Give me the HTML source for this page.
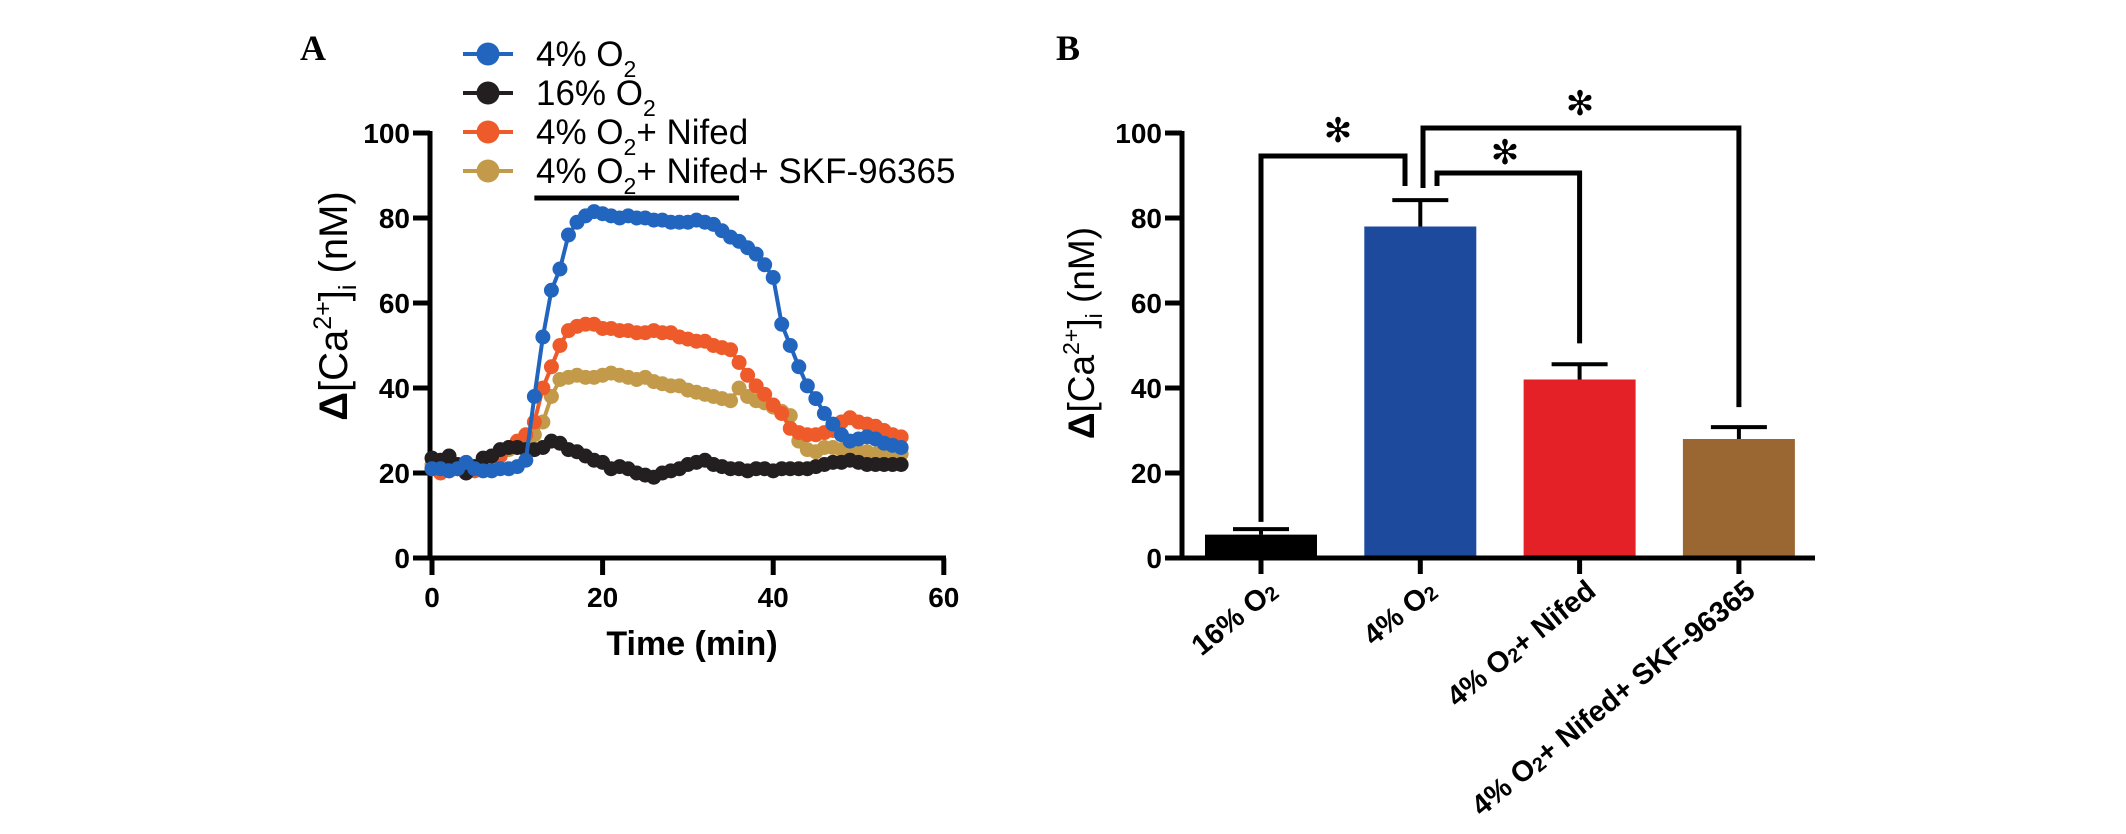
<!DOCTYPE html>
<html><head><meta charset="utf-8"><style>
html,body{margin:0;padding:0;background:#fff;}
svg{display:block;font-family:"Liberation Sans",Arial,sans-serif;}
</style></head><body>
<svg id="fig" width="2126" height="834" viewBox="0 0 2126 834" xmlns="http://www.w3.org/2000/svg">
<text x="300" y="60" font-family="Liberation Serif,serif" font-weight="bold" font-size="36">A</text>
<text x="1056" y="60" font-family="Liberation Serif,serif" font-weight="bold" font-size="36">B</text>
<g id="ga"></g>
<g id="gb"></g>
</svg>
<script>
// ---------- Panel A data ----------
const times = [0,1,2,3,4,5,6,7,8,9,10,11,12,13,14,15,16,17,18,19,20,21,22,23,24,25,26,27,28,29,30,31,32,33,34,35,36,37,38,39,40,41,42,43,44,45,46,47,48,49,50,51,52,53,54,55];
const blueVals = [21,21,20.5,21,22.5,21,20.5,20.5,21,21,21.5,23,38,52,63,68,76,79,80.5,81.5,81,80.5,80,80.5,80,80,79.5,79.5,79,79,79,79.5,79,78.5,77,75.5,74.5,73,71.5,69,66,55,50,45,40.5,37.5,34,31.5,29,27.5,28,28.5,28,27,26.5,26];
const blackVals = [23.5,23,24,22,20,21.5,23.5,24,25.5,26,26,25.5,25.5,26,27.5,27,25.5,25,24,23,22.5,21,21.5,21,20,19.5,19,20,20.5,21,22,22.5,23,22,21.5,21,21,20.5,21,21,20.5,21,21,21,21,21.5,22,22.5,22.5,23,22.5,22,22,22,22,22];
const orangeVals = [21,20,20.5,21,21.5,20.5,21,22,24,26,27.5,29,32,40,45,50,53.5,54.5,55,55,54,54,53.5,53.5,53,53,53.5,53,53,52,51.5,51,51,50,49.5,49,46,43,40.5,38.5,36,34,30.5,29.5,29,29,29.5,30,32,33,32,31.5,31,30,29,28.5];
const tanVals = [22,22.5,21,21.5,20,21.5,22,23,24.5,25.5,26.5,27.5,29,32,38,42,42.5,43,42.5,42.5,43,43.5,43,42.5,42,42.5,41.5,41,40.5,40.5,39.5,39,38.5,38,37.5,37,40,38,37,36.5,35.5,34.5,33.5,27.5,25.5,25,26,26,25.5,25,25,25,24.5,24.5,24.5,24.5];
const aYTicks = [0,20,40,60,80,100];
const aXTicks = [0,20,40,60];
const legendLabels = ["4% O","16% O","4% O","4% O"];
const legendSuffix = ["", "", "+ Nifed", "+ Nifed+ SKF-96365"];
const stimStart = 12, stimEnd = 36;

// ---------- Panel B data ----------
const categories = ["16% O","4% O","4% O+ Nifed","4% O+ Nifed+ SKF-96365"];
const barMeans = [5.5,78,42,28];
const barErrors = [1.3,6.2,3.6,2.8];
const bYTicks = [0,20,40,60,80,100];

const NS="http://www.w3.org/2000/svg";
function mk(parent, tag, attrs){const e=document.createElementNS(NS,tag);for(const k in attrs)e.setAttribute(k,attrs[k]);parent.appendChild(e);return e;}

// ---------- Panel A ----------
const ga=document.getElementById('ga');
const ax=t=>432+t*8.53;
const ay=v=>558-v*4.25;
let e=mk(ga,'line',{x1:430,y1:131,x2:430,y2:560,stroke:'#000','stroke-width':5});


e=mk(ga,'line',{x1:428,y1:558,x2:946,y2:558,stroke:'#000','stroke-width':5});


aYTicks.forEach(v=>{
  let t=mk(ga,'line',{x1:413,y1:ay(v),x2:430,y2:ay(v),stroke:'#000','stroke-width':5});
  
  
  let l=mk(ga,'text',{x:410,y:ay(v)+10,'text-anchor':'end','font-weight':'bold','font-size':28});
  l.textContent=v;
  
  
});
aXTicks.forEach(v=>{
  let t=mk(ga,'line',{x1:ax(v),y1:558,x2:ax(v),y2:575,stroke:'#000','stroke-width':5});
  
  
  let l=mk(ga,'text',{x:ax(v),y:607,'text-anchor':'middle','font-weight':'bold','font-size':28});
  l.textContent=v;
  
  
});
e=mk(ga,'text',{x:692,y:655,'text-anchor':'middle','font-weight':'bold','font-size':34});
e.textContent='Time (min)';


e=mk(ga,'text',{x:0,y:0,transform:'translate(347,306) rotate(-90)','text-anchor':'middle','font-size':40});
e.innerHTML='<tspan font-weight="bold">Δ</tspan>[Ca<tspan font-size="25" dy="-16">2+</tspan><tspan dy="16">]</tspan><tspan font-size="25" dy="9">i</tspan><tspan dy="-9"> (nM)</tspan>';


e=mk(ga,'line',{x1:ax(stimStart),y1:198,x2:ax(stimEnd),y2:198,stroke:'#000','stroke-width':5});


const seriesColors={tan:'#c39a4a',orange:'#ee5a29',black:'#231f20',blue:'#2265bf'};
function drawSeries(vals,color,name){
  const g=mk(ga,'g',{});
  
  
  const pts=vals.map((v,i)=>ax(times[i])+','+ay(v)).join(' ');
  mk(g,'polyline',{points:pts,fill:'none',stroke:color,'stroke-width':4});
  vals.forEach((v,i)=>{
    const c=mk(g,'circle',{cx:ax(times[i]),cy:ay(v),r:7.5,fill:color});
    
    
  });
}
drawSeries(tanVals,seriesColors.tan,'series-4pct-nifed-skf');
drawSeries(orangeVals,seriesColors.orange,'series-4pct-nifed');
drawSeries(blackVals,seriesColors.black,'series-16pct');
drawSeries(blueVals,seriesColors.blue,'series-4pct');
const legColors=[seriesColors.blue,seriesColors.black,seriesColors.orange,seriesColors.tan];
legendLabels.forEach((lab,i)=>{
  const y=54+i*39;
  const g=mk(ga,'g',{});
  
  
  mk(g,'line',{x1:463,y1:y,x2:513,y2:y,stroke:legColors[i],'stroke-width':4});
  mk(g,'circle',{cx:488,cy:y,r:11.5,fill:legColors[i]});
  const t=mk(g,'text',{x:536,y:y+12,'font-size':35});
  t.innerHTML=lab+'<tspan font-size="23" dy="11">2</tspan><tspan dy="-11">'+legendSuffix[i]+'</tspan>';
});

// ---------- Panel B ----------
const gb=document.getElementById('gb');
const by=v=>558-v*4.25;
const bx=i=>1261+i*159.3;
e=mk(gb,'line',{x1:1182,y1:131,x2:1182,y2:560,stroke:'#000','stroke-width':5});


bYTicks.forEach(v=>{
  let t=mk(gb,'line',{x1:1165,y1:by(v),x2:1182,y2:by(v),stroke:'#000','stroke-width':5});
  
  
  let l=mk(gb,'text',{x:1162,y:by(v)+10,'text-anchor':'end','font-weight':'bold','font-size':28});
  l.textContent=v;
  
  
});
e=mk(gb,'text',{x:0,y:0,transform:'translate(1094,333) rotate(-90)','text-anchor':'middle','font-size':37});
e.innerHTML='<tspan font-weight="bold">Δ</tspan>[Ca<tspan font-size="23" dy="-15">2+</tspan><tspan dy="15">]</tspan><tspan font-size="23" dy="8">i</tspan><tspan dy="-8"> (nM)</tspan>';


const barColors=['#000000','#1d4a9c','#e32127','#9a6632'];
const barNames=['bar-16pct','bar-4pct','bar-4pct-nifed','bar-4pct-nifed-skf'];
barMeans.forEach((m,i)=>{
  const r=mk(gb,'rect',{x:bx(i)-56,y:by(m),width:112,height:by(0)-by(m),fill:barColors[i]});
  
  
  const top=by(m+barErrors[i]);
  const eg=mk(gb,'g',{stroke:'#000','stroke-width':4});
  
  
  mk(eg,'line',{x1:bx(i),y1:by(m),x2:bx(i),y2:top});
  mk(eg,'line',{x1:bx(i)-28,y1:top,x2:bx(i)+28,y2:top});
});
e=mk(gb,'line',{x1:1180,y1:558,x2:1815,y2:558,stroke:'#000','stroke-width':5});


categories.forEach((c,i)=>{
  let t=mk(gb,'line',{x1:bx(i),y1:558,x2:bx(i),y2:574,stroke:'#000','stroke-width':5});
  
  
  const parts=c.split('O');
  const l=mk(gb,'text',{x:0,y:0,transform:'translate('+(bx(i)+18)+',594) rotate(-39)','text-anchor':'end','font-weight':'bold','font-size':29});
  l.innerHTML=parts[0]+'O<tspan font-size="20" dy="2">2</tspan><tspan dy="-2">'+(parts[1]||'')+'</tspan>';
  
  
});
function bracket(pts,name){
  const p=mk(gb,'polyline',{points:pts,fill:'none',stroke:'#000','stroke-width':5,'stroke-linejoin':'miter'});
  
  
}
bracket(bx(0)+','+by(8.5)+' '+bx(0)+',156 1405,156 1405,186','bracket-16-vs-4');
bracket('1423,188 1423,128 '+bx(3)+',128 '+bx(3)+','+by(35.5),'bracket-4-vs-skf');
bracket('1437,186 1437,173 '+bx(2)+',173 '+bx(2)+','+by(50.5),'bracket-4-vs-nifed');
[[1338,142],[1580,115],[1505,164]].forEach(s=>{
  const t=mk(gb,'text',{x:s[0],y:s[1],'text-anchor':'middle','font-size':34,'font-family':'DejaVu Sans,sans-serif'});
  t.textContent='✻';
  
  
});
</script>
</body></html>
